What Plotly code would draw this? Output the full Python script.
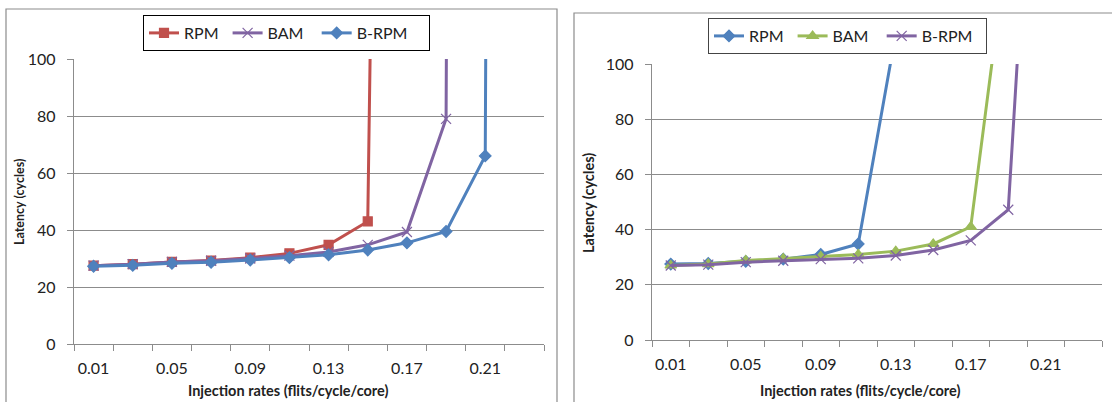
import plotly.graph_objects as go

# ---- data ----
categories = ["0.01", "0.03", "0.05", "0.07", "0.09", "0.11", "0.13", "0.15",
              "0.17", "0.19", "0.21", "0.23"]
shown_labels = ["0.01", "0.05", "0.09", "0.13", "0.17", "0.21"]
series_names = ["RPM", "BAM", "B-RPM"]

# left chart
left_rpm = [27.5, 28.0, 28.8, 29.3, 30.3, 31.8, 34.8, 43.0, 1000]
left_bam = [27.5, 28.0, 28.8, 29.2, 30.0, 31.0, 32.3, 34.8, 39.3, 79.0, 3000]
left_brpm = [27.3, 27.6, 28.3, 28.7, 29.5, 30.3, 31.3, 33.0, 35.5, 39.5, 66.0, 3000]

# right chart
right_rpm = [27.5, 27.7, 28.5, 29.3, 31.0, 34.8, 111]
right_bam = [27.0, 27.5, 28.8, 29.5, 30.3, 31.0, 32.2, 34.8, 41.0, 146]
right_brpm = [27.0, 27.3, 28.2, 28.7, 29.3, 29.6, 30.6, 32.6, 36.1, 47.2, 270]

y_ticks = [0, 20, 40, 60, 80, 100]

BLUE = "#4F81BD"
RED = "#C0504D"
GREEN = "#9BBB59"
PURPLE = "#8064A2"
GRID = "#8C8C8C"
FONT = "Lato, Carlito, sans-serif"
NB = "\u00a0"

W, H = 1112, 402


def px_x(x):
    return x / W


def px_y(y):
    return 1 - y / H


idx = list(range(len(categories)))

fig = go.Figure()


def add(vals, name, pad, color, symbol, size, xa, ya, legend):
    fig.add_trace(go.Scatter(
        x=idx[:len(vals)], y=vals, name=name + NB * pad, mode="lines+markers",
        line=dict(color=color, width=3),
        marker=dict(symbol=symbol, size=size, color=color,
                    line=dict(color=color, width=1.2)),
        xaxis=xa, yaxis=ya, legend=legend,
        hovertext=[categories[i] for i in range(len(vals))],
    ))


add(left_rpm, series_names[0], 1, RED, "square", 9, "x", "y", "legend")
add(left_bam, series_names[1], 2, PURPLE, "x-thin", 10, "x", "y", "legend")
add(left_brpm, series_names[2], 4, BLUE, "diamond", 9, "x", "y", "legend")

add(right_rpm, series_names[0], 1, BLUE, "diamond", 9, "x2", "y2", "legend2")
add(right_bam, series_names[1], 2, GREEN, "triangle-up", 10, "x2", "y2", "legend2")
add(right_brpm, series_names[2], 2, PURPLE, "x-thin", 10, "x2", "y2", "legend2")

label_vals = [categories.index(l) for l in shown_labels]
minor_vals = [i - 0.5 for i in range(len(categories) + 1)]


def xaxis_cfg(domain, anchor):
    return dict(
        domain=domain, anchor=anchor, range=[-0.5, len(categories) - 0.5],
        automargin=False,
        tickmode="array", tickvals=label_vals, ticktext=shown_labels,
        ticks="outside", ticklen=5, tickcolor="rgba(0,0,0,0)",
        ticklabelstandoff=5,
        minor=dict(tickmode="array", tickvals=minor_vals, ticks="outside",
                   ticklen=6, tickcolor=GRID, showgrid=False),
        showgrid=False, zeroline=False, showline=True, linecolor=GRID,
        linewidth=1.3, tickfont=dict(size=16, color="#222", family=FONT),
        fixedrange=True,
    )


def yaxis_cfg(domain, anchor):
    return dict(
        domain=domain, anchor=anchor, range=[0, 100],
        automargin=False,
        tickmode="array", tickvals=y_ticks,
        ticks="outside", ticklen=6, tickcolor=GRID,
        ticklabelstandoff=8,
        showgrid=True, gridcolor=GRID, gridwidth=1.2, zeroline=False,
        showline=True, linecolor=GRID, linewidth=1.3,
        tickfont=dict(size=16, color="#222", family=FONT),
        fixedrange=True,
    )


def legend_cfg(x, y, border):
    return dict(orientation="h", x=px_x(x), y=px_y(y), xanchor="left",
                yanchor="top", bordercolor=border, borderwidth=1,
                bgcolor="white", font=dict(size=16, family=FONT, color="#222"),
                itemwidth=30, tracegroupgap=0)


fig.update_layout(
    width=W, height=H,
    margin=dict(l=0, r=0, t=0, b=0, autoexpand=False),
    paper_bgcolor="white", plot_bgcolor="white",
    font=dict(family=FONT, color="#222"),
    xaxis=xaxis_cfg([px_x(74), px_x(544)], "y"),
    yaxis=yaxis_cfg([px_y(344), px_y(59)], "x"),
    xaxis2=xaxis_cfg([px_x(652), px_x(1102)], "y2"),
    yaxis2=yaxis_cfg([px_y(340), px_y(64)], "x2"),
    legend=legend_cfg(143, 15, "#000"),
    legend2=legend_cfg(708, 18, "#444"),
    showlegend=True,
)

# chart-area borders
fig.add_shape(type="rect", xref="paper", yref="paper",
              x0=px_x(6), x1=px_x(557), y0=px_y(410), y1=px_y(9),
              line=dict(color="#8C8C8C", width=1.2), layer="below")
fig.add_shape(type="rect", xref="paper", yref="paper",
              x0=px_x(574), x1=px_x(1120), y0=px_y(410), y1=px_y(13),
              line=dict(color="#8C8C8C", width=1.2), layer="below")

# axis titles
title_font_x = dict(size=14.5, family=FONT, color="#222")
fig.add_annotation(text="<b>Injection rates (flits/cycle/core)</b>",
                   xref="paper", yref="paper", x=px_x(288), y=px_y(390),
                   xanchor="center", yanchor="middle",
                   showarrow=False, font=title_font_x)
fig.add_annotation(text="<b>Injection rates (flits/cycle/core)</b>",
                   xref="paper", yref="paper", x=px_x(860), y=px_y(390),
                   xanchor="center", yanchor="middle",
                   showarrow=False, font=title_font_x)
fig.add_annotation(text="<b>Latency (cycles)</b>", textangle=-90,
                   xref="paper", yref="paper", x=px_x(19), y=px_y(202),
                   xanchor="center", yanchor="middle",
                   showarrow=False, font=dict(size=12.5, family=FONT, color="#222"))
fig.add_annotation(text="<b>Latency (cycles)</b>", textangle=-90,
                   xref="paper", yref="paper", x=px_x(588), y=px_y(203),
                   xanchor="center", yanchor="middle",
                   showarrow=False, font=dict(size=14.5, family=FONT, color="#222"))

fig.write_html("out.html",
               config=dict(displayModeBar=False),
               post_script="document.body.style.margin='0';"
                           "document.body.style.overflow='hidden';")
